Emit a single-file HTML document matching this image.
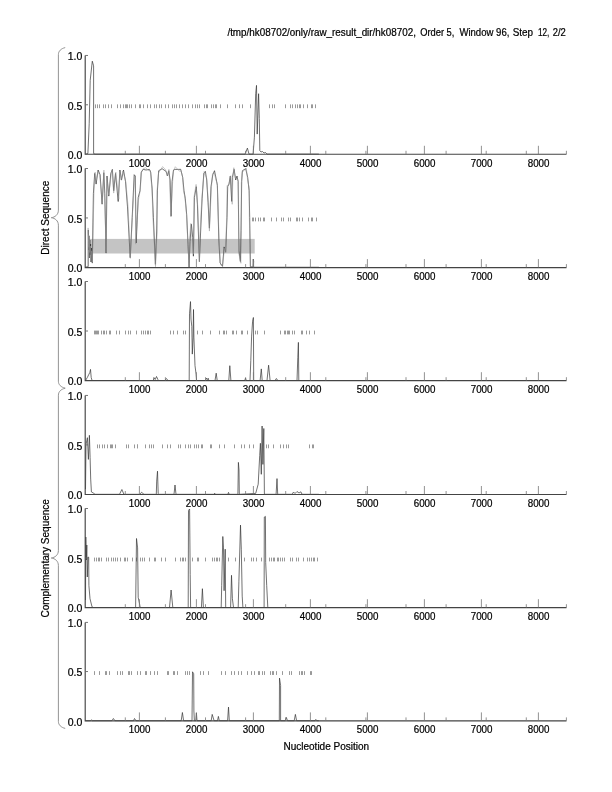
<!DOCTYPE html><html><head><meta charset="utf-8"><style>html,body{margin:0;padding:0;background:#fff;width:612px;height:792px;overflow:hidden}svg{display:block;filter:grayscale(1)}text{font-family:"Liberation Sans",sans-serif;fill:#000;stroke:#000;stroke-width:0.22}</style></head><body>
<svg width="612" height="792" viewBox="0 0 612 792">
<text x="227.40" y="35.6" font-size="10" textLength="188.50" lengthAdjust="spacingAndGlyphs">/tmp/hk08702/only/raw_result_dir/hk08702,</text>
<text x="420.20" y="35.6" font-size="10" textLength="34.20" lengthAdjust="spacingAndGlyphs">Order 5,</text>
<text x="459.40" y="35.6" font-size="10" textLength="50.00" lengthAdjust="spacingAndGlyphs">Window 96,</text>
<text x="512.70" y="35.6" font-size="10" textLength="20.40" lengthAdjust="spacingAndGlyphs">Step</text>
<text x="538.00" y="35.6" font-size="10" textLength="11.40" lengthAdjust="spacingAndGlyphs">12,</text>
<text x="552.70" y="35.6" font-size="10" textLength="13.10" lengthAdjust="spacingAndGlyphs">2/2</text>
<path d="M95.5 104.38v3.8M97.5 104.38v3.8M99.5 104.38v3.8M103.5 104.38v3.8M105.5 104.38v3.8M108.5 104.38v3.8M111.5 104.38v3.8M117.5 104.38v3.8M120.5 104.38v3.8M123.5 104.38v3.8M125.5 104.38v3.8M126.5 104.38v3.8M127.5 104.38v3.8M129.5 104.38v3.8M131.5 104.38v3.8M135.5 104.38v3.8M139.5 104.38v3.8M140.5 104.38v3.8M143.5 104.38v3.8M147.5 104.38v3.8M150.5 104.38v3.8M154.5 104.38v3.8M156.5 104.38v3.8M159.5 104.38v3.8M161.5 104.38v3.8M165.5 104.38v3.8M168.5 104.38v3.8M172.5 104.38v3.8M174.5 104.38v3.8M176.5 104.38v3.8M179.5 104.38v3.8M182.5 104.38v3.8M185.5 104.38v3.8M188.5 104.38v3.8M192.5 104.38v3.8M195.5 104.38v3.8M197.5 104.38v3.8M199.5 104.38v3.8M204.5 104.38v3.8M206.5 104.38v3.8M207.5 104.38v3.8M211.5 104.38v3.8M213.5 104.38v3.8M215.5 104.38v3.8M216.5 104.38v3.8M220.5 104.38v3.8M227.5 104.38v3.8M235.5 104.38v3.8M239.5 104.38v3.8M242.5 104.38v3.8M250.5 104.38v3.8M269.5 104.38v3.8M272.5 104.38v3.8M274.5 104.38v3.8M285.5 104.38v3.8M290.5 104.38v3.8M292.5 104.38v3.8M295.5 104.38v3.8M297.5 104.38v3.8M299.5 104.38v3.8M300.5 104.38v3.8M303.5 104.38v3.8M307.5 104.38v3.8M311.5 104.38v3.8M312.5 104.38v3.8M315.5 104.38v3.8" fill="none" stroke="#999" stroke-width="1"/>
<path d="M85.5 154.1L87.9 153.5L89.2 123.7L90.2 80.3L92.3 61.2L93.6 65.8L93.6 153.5L95.0 154.1L245.1 154.1L247.4 148.1L249.0 154.1L253.1 154.1L254.4 137.2L255.7 93.7L256.5 85.4L257.2 134.1L258.6 93.7L259.3 118.5L259.8 150.6L261.0 152.0L262.5 151.5L264.0 153.0L265.5 152.5L267.0 154.1L318.9 154.1" fill="none" stroke="#333" stroke-width="0.7" stroke-linejoin="round"/>
<path d="M85.2 55.46V154.24H566.5" fill="none" stroke="#444" stroke-width="1.15"/>
<path d="M85.2 55.46h2.8M85.2 104.78h2.8" fill="none" stroke="#666" stroke-width="0.9"/>
<path d="M139.40 154.09v-8.3M196.40 154.09v-8.3M253.40 154.09v-8.3M310.40 154.09v-8.3M367.40 154.09v-8.3M424.40 154.09v-8.3M481.40 154.09v-8.3M538.40 154.09v-8.3M125.30 154.09v-3.3M165.40 154.09v-3.3M205.50 154.09v-3.3M245.60 154.09v-3.3M285.70 154.09v-3.3M325.80 154.09v-3.3M365.90 154.09v-3.3M406.00 154.09v-3.3M446.10 154.09v-3.3M486.20 154.09v-3.3M526.30 154.09v-3.3M566.40 154.09v-3.3" fill="none" stroke="#777" stroke-width="0.8"/>
<text transform="translate(82.3 60.26) scale(1.05 1)" font-size="10" text-anchor="end">1.0</text>
<text transform="translate(82.3 109.58) scale(1.05 1)" font-size="10" text-anchor="end">0.5</text>
<text transform="translate(82.3 158.89) scale(1.05 1)" font-size="10" text-anchor="end">0.0</text>
<text transform="translate(139.60 166.69) scale(0.98 1)" font-size="10" text-anchor="middle">1000</text>
<text transform="translate(196.60 166.69) scale(0.98 1)" font-size="10" text-anchor="middle">2000</text>
<text transform="translate(253.60 166.69) scale(0.98 1)" font-size="10" text-anchor="middle">3000</text>
<text transform="translate(310.60 166.69) scale(0.98 1)" font-size="10" text-anchor="middle">4000</text>
<text transform="translate(367.60 166.69) scale(0.98 1)" font-size="10" text-anchor="middle">5000</text>
<text transform="translate(424.60 166.69) scale(0.98 1)" font-size="10" text-anchor="middle">6000</text>
<text transform="translate(481.60 166.69) scale(0.98 1)" font-size="10" text-anchor="middle">7000</text>
<text transform="translate(538.60 166.69) scale(0.98 1)" font-size="10" text-anchor="middle">8000</text>
<rect x="89.0" y="238.9" width="165.70" height="14.60" fill="#c4c4c4"/>
<path d="M252.5 217.55v3.8M253.5 217.55v3.8M255.5 217.55v3.8M258.5 217.55v3.8M260.5 217.55v3.8M263.5 217.55v3.8M264.5 217.55v3.8M271.5 217.55v3.8M276.5 217.55v3.8M281.5 217.55v3.8M283.5 217.55v3.8M288.5 217.55v3.8M290.5 217.55v3.8M296.5 217.55v3.8M297.5 217.55v3.8M299.5 217.55v3.8M302.5 217.55v3.8M308.5 217.55v3.8M311.5 217.55v3.8M312.5 217.55v3.8M316.5 217.55v3.8" fill="none" stroke="#999" stroke-width="1"/>
<path d="M85.5 267.3L88.2 266.5L88.3 230.0L88.7 250.0L89.0 236.0L89.4 258.0L89.8 240.0L90.2 255.0L90.6 244.0L91.0 262.0L91.5 248.0L92.3 263.1L93.4 193.5L94.7 173.4L96.1 184.1L98.1 170.0L100.1 174.7L102.1 204.2L103.8 172.7L104.8 193.5L106.1 253.1L107.0 176.0L108.8 196.1L110.8 173.4L112.4 169.4L113.7 190.8L115.5 173.4L118.2 201.5L119.9 170.0L121.5 180.1L123.5 170.0L125.5 181.4L127.5 206.9L130.2 257.7L132.2 217.6L134.2 174.7L135.3 176.0L136.2 243.0L138.2 197.5L140.0 190.8L141.3 172.0L143.3 169.4L146.0 170.0L149.4 169.4L150.7 172.0L152.1 188.1L153.4 217.6L155.4 264.4L156.7 231.0L157.4 190.8L158.7 170.7L162.1 168.7L166.1 171.4L167.5 176.0L168.8 170.7L170.1 180.1L171.1 216.2L172.1 181.4L173.5 170.0L175.1 169.4L178.8 169.4L180.7 169.3L182.7 177.4L184.0 190.7L185.3 198.8L186.7 214.8L188.0 244.2L189.1 267.0L190.0 241.5L191.4 224.2L192.7 237.5L193.4 256.2L194.4 197.4L196.3 186.7L197.4 204.1L199.4 261.6L200.3 238.9L202.1 198.8L203.8 173.4L205.4 171.4L206.7 180.0L208.1 202.8L209.4 228.2L211.0 186.7L212.8 174.7L214.5 170.7L216.1 178.7L217.4 185.4L218.8 238.9L220.1 262.9L222.5 266.3L224.1 246.9L225.7 252.2L227.0 217.5L227.7 186.7L229.0 184.0L230.3 176.0L231.7 201.4L232.4 177.4L234.1 169.3L235.7 180.0L237.0 176.0L238.1 181.4L238.4 204.1L239.0 250.9L240.4 261.6L241.0 230.8L241.7 181.4L242.4 170.7L245.7 168.7L247.7 177.4L249.1 190.7L249.7 217.5L250.4 266.8L253.0 267.0L253.3 259.0L253.6 267.3L318.9 267.3" fill="none" stroke="#333" stroke-width="0.7" stroke-linejoin="round"/>
<path d="M85.5 267.3L88.2 266.5L88.1 227.9L88.9 247.4L89.0 235.2L88.9 258.0L89.2 239.6L89.7 252.5L90.5 246.0L90.5 260.3L91.7 250.7L92.4 262.5L94.0 190.8L95.1 172.1L95.7 181.8L97.9 171.9L99.7 175.2L102.3 203.4L103.9 170.1L104.3 191.7L106.3 252.7L106.8 176.5L108.7 194.9L111.2 174.6L112.1 169.8L113.7 193.1L115.8 172.1L118.8 199.2L119.8 171.5L121.1 180.0L122.9 171.0L125.8 181.8L128.0 205.8L130.4 258.3L132.3 217.3L134.6 177.4L135.3 177.0L135.7 244.2L138.4 200.5L140.4 189.5L141.2 173.0L142.7 169.2L145.6 167.7L148.9 171.0L150.3 170.5L152.0 190.3L152.9 217.3L155.5 266.7L157.1 233.2L157.1 190.3L158.5 173.0L162.6 166.6L165.7 169.8L167.2 175.9L168.9 169.3L169.5 179.6L170.9 216.6L172.6 182.5L173.5 170.7L175.3 166.7L179.3 171.1L181.1 171.1L182.6 176.8L183.5 191.5L184.8 196.2L186.4 212.8L187.8 241.5L189.1 267.0L189.4 239.4L190.9 223.4L192.1 239.7L193.5 254.1L194.1 196.5L196.1 184.4L197.8 207.1L199.4 261.5L199.8 236.5L201.9 197.4L204.2 171.4L204.8 174.1L206.7 177.9L208.2 200.0L209.4 231.1L211.4 187.9L212.5 173.9L214.1 172.3L216.1 180.4L217.2 183.7L219.2 241.8L220.5 264.7L222.5 266.3L224.5 248.3L225.4 252.3L226.8 214.7L227.1 185.4L228.7 185.2L230.8 175.7L232.2 204.3L232.9 176.6L233.8 167.7L235.3 178.2L237.1 178.4L238.5 181.3L238.6 205.9L238.5 251.9L240.9 263.3L241.3 230.7L241.3 183.1L242.2 172.5L246.3 168.1L247.6 180.1L249.4 188.7L249.3 215.4L250.4 266.8L253.0 267.0L253.8 260.8L253.6 267.3L318.9 267.3" fill="none" stroke="#999" stroke-width="0.5" stroke-linejoin="round"/>
<path d="M85.2 168.50V267.55H566.5" fill="none" stroke="#444" stroke-width="1.15"/>
<path d="M85.2 168.50h2.8M85.2 217.95h2.8" fill="none" stroke="#666" stroke-width="0.9"/>
<path d="M139.40 267.40v-8.3M196.40 267.40v-8.3M253.40 267.40v-8.3M310.40 267.40v-8.3M367.40 267.40v-8.3M424.40 267.40v-8.3M481.40 267.40v-8.3M538.40 267.40v-8.3M125.30 267.40v-3.3M165.40 267.40v-3.3M205.50 267.40v-3.3M245.60 267.40v-3.3M285.70 267.40v-3.3M325.80 267.40v-3.3M365.90 267.40v-3.3M406.00 267.40v-3.3M446.10 267.40v-3.3M486.20 267.40v-3.3M526.30 267.40v-3.3M566.40 267.40v-3.3" fill="none" stroke="#777" stroke-width="0.8"/>
<text transform="translate(82.3 173.30) scale(1.05 1)" font-size="10" text-anchor="end">1.0</text>
<text transform="translate(82.3 222.75) scale(1.05 1)" font-size="10" text-anchor="end">0.5</text>
<text transform="translate(82.3 272.20) scale(1.05 1)" font-size="10" text-anchor="end">0.0</text>
<text transform="translate(139.60 280.00) scale(0.98 1)" font-size="10" text-anchor="middle">1000</text>
<text transform="translate(196.60 280.00) scale(0.98 1)" font-size="10" text-anchor="middle">2000</text>
<text transform="translate(253.60 280.00) scale(0.98 1)" font-size="10" text-anchor="middle">3000</text>
<text transform="translate(310.60 280.00) scale(0.98 1)" font-size="10" text-anchor="middle">4000</text>
<text transform="translate(367.60 280.00) scale(0.98 1)" font-size="10" text-anchor="middle">5000</text>
<text transform="translate(424.60 280.00) scale(0.98 1)" font-size="10" text-anchor="middle">6000</text>
<text transform="translate(481.60 280.00) scale(0.98 1)" font-size="10" text-anchor="middle">7000</text>
<text transform="translate(538.60 280.00) scale(0.98 1)" font-size="10" text-anchor="middle">8000</text>
<path d="M94.5 330.60v3.8M95.5 330.60v3.8M96.5 330.60v3.8M97.5 330.60v3.8M98.5 330.60v3.8M101.5 330.60v3.8M103.5 330.60v3.8M104.5 330.60v3.8M106.5 330.60v3.8M109.5 330.60v3.8M110.5 330.60v3.8M116.5 330.60v3.8M119.5 330.60v3.8M125.5 330.60v3.8M128.5 330.60v3.8M130.5 330.60v3.8M136.5 330.60v3.8M141.5 330.60v3.8M143.5 330.60v3.8M145.5 330.60v3.8M147.5 330.60v3.8M148.5 330.60v3.8M150.5 330.60v3.8M170.5 330.60v3.8M173.5 330.60v3.8M177.5 330.60v3.8M183.5 330.60v3.8M185.5 330.60v3.8M197.5 330.60v3.8M202.5 330.60v3.8M210.5 330.60v3.8M219.5 330.60v3.8M223.5 330.60v3.8M224.5 330.60v3.8M226.5 330.60v3.8M232.5 330.60v3.8M233.5 330.60v3.8M236.5 330.60v3.8M241.5 330.60v3.8M242.5 330.60v3.8M247.5 330.60v3.8M255.5 330.60v3.8M257.5 330.60v3.8M264.5 330.60v3.8M280.5 330.60v3.8M284.5 330.60v3.8M285.5 330.60v3.8M287.5 330.60v3.8M288.5 330.60v3.8M289.5 330.60v3.8M292.5 330.60v3.8M294.5 330.60v3.8M301.5 330.60v3.8M302.5 330.60v3.8M306.5 330.60v3.8M309.5 330.60v3.8M314.5 330.60v3.8" fill="none" stroke="#999" stroke-width="1"/>
<path d="M85.5 380.5L87.3 377.5L88.6 374.9L89.9 372.3L90.5 369.4L91.2 377.5L92.1 380.5L153.3 380.5L153.9 377.5L155.2 379.5L156.5 376.5L157.9 379.5L158.5 380.5L164.8 380.5L166.4 378.5L168.0 380.5L189.2 380.5L189.5 313.8L190.5 301.6L191.0 319.1L191.8 326.5L192.3 354.1L193.1 337.1L193.5 309.5L193.9 337.1L195.0 365.7L196.1 374.2L196.6 380.5L205.6 380.5L206.5 378.0L207.5 379.5L208.3 378.3L208.8 380.5L215.0 380.5L216.2 373.2L217.2 380.5L228.8 380.5L229.8 365.7L230.9 380.5L244.8 380.5L245.5 378.0L246.2 380.5L250.0 380.5L250.8 360.4L251.6 336.1L252.6 321.2L253.4 317.5L253.7 380.5L260.1 380.5L261.3 368.9L262.2 380.5L267.0 380.5L268.6 365.2L270.1 380.5L275.0 380.5L276.4 378.5L277.8 380.5L297.0 380.5L297.8 357.3L298.4 342.4L298.8 380.5L318.9 380.5" fill="none" stroke="#333" stroke-width="0.7" stroke-linejoin="round"/>
<path d="M85.2 281.50V380.65H566.5" fill="none" stroke="#444" stroke-width="1.15"/>
<path d="M85.2 281.50h2.8M85.2 331.00h2.8" fill="none" stroke="#666" stroke-width="0.9"/>
<path d="M139.40 380.50v-8.3M196.40 380.50v-8.3M253.40 380.50v-8.3M310.40 380.50v-8.3M367.40 380.50v-8.3M424.40 380.50v-8.3M481.40 380.50v-8.3M538.40 380.50v-8.3M125.30 380.50v-3.3M165.40 380.50v-3.3M205.50 380.50v-3.3M245.60 380.50v-3.3M285.70 380.50v-3.3M325.80 380.50v-3.3M365.90 380.50v-3.3M406.00 380.50v-3.3M446.10 380.50v-3.3M486.20 380.50v-3.3M526.30 380.50v-3.3M566.40 380.50v-3.3" fill="none" stroke="#777" stroke-width="0.8"/>
<text transform="translate(82.3 286.30) scale(1.05 1)" font-size="10" text-anchor="end">1.0</text>
<text transform="translate(82.3 335.80) scale(1.05 1)" font-size="10" text-anchor="end">0.5</text>
<text transform="translate(82.3 385.30) scale(1.05 1)" font-size="10" text-anchor="end">0.0</text>
<text transform="translate(139.60 393.10) scale(0.98 1)" font-size="10" text-anchor="middle">1000</text>
<text transform="translate(196.60 393.10) scale(0.98 1)" font-size="10" text-anchor="middle">2000</text>
<text transform="translate(253.60 393.10) scale(0.98 1)" font-size="10" text-anchor="middle">3000</text>
<text transform="translate(310.60 393.10) scale(0.98 1)" font-size="10" text-anchor="middle">4000</text>
<text transform="translate(367.60 393.10) scale(0.98 1)" font-size="10" text-anchor="middle">5000</text>
<text transform="translate(424.60 393.10) scale(0.98 1)" font-size="10" text-anchor="middle">6000</text>
<text transform="translate(481.60 393.10) scale(0.98 1)" font-size="10" text-anchor="middle">7000</text>
<text transform="translate(538.60 393.10) scale(0.98 1)" font-size="10" text-anchor="middle">8000</text>
<path d="M97.5 444.48v3.8M99.5 444.48v3.8M102.5 444.48v3.8M104.5 444.48v3.8M107.5 444.48v3.8M110.5 444.48v3.8M111.5 444.48v3.8M112.5 444.48v3.8M115.5 444.48v3.8M126.5 444.48v3.8M128.5 444.48v3.8M134.5 444.48v3.8M137.5 444.48v3.8M137.5 444.48v3.8M145.5 444.48v3.8M149.5 444.48v3.8M151.5 444.48v3.8M153.5 444.48v3.8M162.5 444.48v3.8M167.5 444.48v3.8M170.5 444.48v3.8M178.5 444.48v3.8M180.5 444.48v3.8M185.5 444.48v3.8M188.5 444.48v3.8M190.5 444.48v3.8M194.5 444.48v3.8M196.5 444.48v3.8M198.5 444.48v3.8M201.5 444.48v3.8M202.5 444.48v3.8M210.5 444.48v3.8M211.5 444.48v3.8M219.5 444.48v3.8M224.5 444.48v3.8M234.5 444.48v3.8M241.5 444.48v3.8M244.5 444.48v3.8M249.5 444.48v3.8M253.5 444.48v3.8M266.5 444.48v3.8M268.5 444.48v3.8M273.5 444.48v3.8M280.5 444.48v3.8M283.5 444.48v3.8M286.5 444.48v3.8M288.5 444.48v3.8M309.5 444.48v3.8M312.5 444.48v3.8M313.5 444.48v3.8" fill="none" stroke="#999" stroke-width="1"/>
<path d="M85.5 489.0L86.0 444.6L87.4 437.7L88.4 459.4L89.4 435.3L90.1 457.4L90.7 479.1L91.4 491.9L93.9 493.4L95.0 494.3L119.5 494.3L121.9 489.5L123.9 494.3L140.0 494.3L141.5 492.3L144.0 494.3L156.3 494.3L156.7 481.1L157.5 471.2L158.2 493.4L158.5 494.3L174.0 494.3L175.0 485.0L176.0 494.3L214.0 494.3L214.7 493.2L215.4 494.3L227.8 494.3L228.5 492.4L229.2 494.3L237.9 494.3L238.4 462.4L239.0 470.0L239.3 494.3L255.7 493.4L258.2 484.2L259.7 455.7L260.4 443.3L261.3 474.3L262.1 426.0L262.9 464.4L263.8 428.5L264.4 494.3L276.1 494.3L277.0 478.6L277.7 494.3L292.2 494.3L293.5 492.0L295.0 493.5L297.0 491.5L299.0 493.0L300.9 491.8L302.0 494.3L318.9 494.3" fill="none" stroke="#333" stroke-width="0.7" stroke-linejoin="round"/>
<path d="M85.2 395.45V494.45H566.5" fill="none" stroke="#444" stroke-width="1.15"/>
<path d="M85.2 395.45h2.8M85.2 444.88h2.8" fill="none" stroke="#666" stroke-width="0.9"/>
<path d="M139.40 494.30v-8.3M196.40 494.30v-8.3M253.40 494.30v-8.3M310.40 494.30v-8.3M367.40 494.30v-8.3M424.40 494.30v-8.3M481.40 494.30v-8.3M538.40 494.30v-8.3M125.30 494.30v-3.3M165.40 494.30v-3.3M205.50 494.30v-3.3M245.60 494.30v-3.3M285.70 494.30v-3.3M325.80 494.30v-3.3M365.90 494.30v-3.3M406.00 494.30v-3.3M446.10 494.30v-3.3M486.20 494.30v-3.3M526.30 494.30v-3.3M566.40 494.30v-3.3" fill="none" stroke="#777" stroke-width="0.8"/>
<text transform="translate(82.3 400.25) scale(1.05 1)" font-size="10" text-anchor="end">1.0</text>
<text transform="translate(82.3 449.68) scale(1.05 1)" font-size="10" text-anchor="end">0.5</text>
<text transform="translate(82.3 499.10) scale(1.05 1)" font-size="10" text-anchor="end">0.0</text>
<text transform="translate(139.60 506.90) scale(0.98 1)" font-size="10" text-anchor="middle">1000</text>
<text transform="translate(196.60 506.90) scale(0.98 1)" font-size="10" text-anchor="middle">2000</text>
<text transform="translate(253.60 506.90) scale(0.98 1)" font-size="10" text-anchor="middle">3000</text>
<text transform="translate(310.60 506.90) scale(0.98 1)" font-size="10" text-anchor="middle">4000</text>
<text transform="translate(367.60 506.90) scale(0.98 1)" font-size="10" text-anchor="middle">5000</text>
<text transform="translate(424.60 506.90) scale(0.98 1)" font-size="10" text-anchor="middle">6000</text>
<text transform="translate(481.60 506.90) scale(0.98 1)" font-size="10" text-anchor="middle">7000</text>
<text transform="translate(538.60 506.90) scale(0.98 1)" font-size="10" text-anchor="middle">8000</text>
<path d="M94.5 557.60v3.8M96.5 557.60v3.8M98.5 557.60v3.8M99.5 557.60v3.8M101.5 557.60v3.8M106.5 557.60v3.8M108.5 557.60v3.8M111.5 557.60v3.8M113.5 557.60v3.8M115.5 557.60v3.8M117.5 557.60v3.8M120.5 557.60v3.8M124.5 557.60v3.8M125.5 557.60v3.8M127.5 557.60v3.8M132.5 557.60v3.8M136.5 557.60v3.8M140.5 557.60v3.8M142.5 557.60v3.8M144.5 557.60v3.8M149.5 557.60v3.8M154.5 557.60v3.8M155.5 557.60v3.8M161.5 557.60v3.8M165.5 557.60v3.8M175.5 557.60v3.8M180.5 557.60v3.8M182.5 557.60v3.8M183.5 557.60v3.8M185.5 557.60v3.8M192.5 557.60v3.8M197.5 557.60v3.8M198.5 557.60v3.8M205.5 557.60v3.8M212.5 557.60v3.8M214.5 557.60v3.8M216.5 557.60v3.8M217.5 557.60v3.8M219.5 557.60v3.8M228.5 557.60v3.8M235.5 557.60v3.8M244.5 557.60v3.8M251.5 557.60v3.8M253.5 557.60v3.8M256.5 557.60v3.8M261.5 557.60v3.8M269.5 557.60v3.8M271.5 557.60v3.8M273.5 557.60v3.8M274.5 557.60v3.8M277.5 557.60v3.8M278.5 557.60v3.8M280.5 557.60v3.8M282.5 557.60v3.8M284.5 557.60v3.8M290.5 557.60v3.8M292.5 557.60v3.8M296.5 557.60v3.8M298.5 557.60v3.8M303.5 557.60v3.8M307.5 557.60v3.8M309.5 557.60v3.8M311.5 557.60v3.8M313.5 557.60v3.8M314.5 557.60v3.8M317.5 557.60v3.8" fill="none" stroke="#999" stroke-width="1"/>
<path d="M85.5 600.0L85.8 537.0L86.3 560.0L86.8 545.0L87.3 577.0L88.0 557.2L88.7 557.2L88.9 585.4L90.0 598.7L92.0 606.8L93.0 607.5L135.6 607.5L136.5 538.5L137.6 547.9L138.2 597.4L139.6 604.1L140.2 607.5L169.5 607.5L171.1 590.0L172.8 607.5L188.2 607.5L188.5 510.4L189.6 509.0L190.2 574.6L190.6 607.5L201.4 607.5L202.4 588.7L203.4 607.5L221.2 607.5L221.7 585.4L222.8 536.5L223.5 547.9L224.1 590.7L225.2 549.2L225.7 607.5L230.6 607.5L231.5 575.3L232.4 598.7L233.5 607.5L238.2 607.5L238.9 581.3L240.5 525.1L241.3 549.2L242.2 596.1L242.9 607.5L264.1 607.5L264.3 517.1L265.4 516.4L265.7 562.6L266.7 585.4L267.8 607.5L318.9 607.5" fill="none" stroke="#333" stroke-width="0.7" stroke-linejoin="round"/>
<path d="M85.2 508.50V607.65H566.5" fill="none" stroke="#444" stroke-width="1.15"/>
<path d="M85.2 508.50h2.8M85.2 558.00h2.8" fill="none" stroke="#666" stroke-width="0.9"/>
<path d="M139.40 607.50v-8.3M196.40 607.50v-8.3M253.40 607.50v-8.3M310.40 607.50v-8.3M367.40 607.50v-8.3M424.40 607.50v-8.3M481.40 607.50v-8.3M538.40 607.50v-8.3M125.30 607.50v-3.3M165.40 607.50v-3.3M205.50 607.50v-3.3M245.60 607.50v-3.3M285.70 607.50v-3.3M325.80 607.50v-3.3M365.90 607.50v-3.3M406.00 607.50v-3.3M446.10 607.50v-3.3M486.20 607.50v-3.3M526.30 607.50v-3.3M566.40 607.50v-3.3" fill="none" stroke="#777" stroke-width="0.8"/>
<text transform="translate(82.3 513.30) scale(1.05 1)" font-size="10" text-anchor="end">1.0</text>
<text transform="translate(82.3 562.80) scale(1.05 1)" font-size="10" text-anchor="end">0.5</text>
<text transform="translate(82.3 612.30) scale(1.05 1)" font-size="10" text-anchor="end">0.0</text>
<text transform="translate(139.60 620.10) scale(0.98 1)" font-size="10" text-anchor="middle">1000</text>
<text transform="translate(196.60 620.10) scale(0.98 1)" font-size="10" text-anchor="middle">2000</text>
<text transform="translate(253.60 620.10) scale(0.98 1)" font-size="10" text-anchor="middle">3000</text>
<text transform="translate(310.60 620.10) scale(0.98 1)" font-size="10" text-anchor="middle">4000</text>
<text transform="translate(367.60 620.10) scale(0.98 1)" font-size="10" text-anchor="middle">5000</text>
<text transform="translate(424.60 620.10) scale(0.98 1)" font-size="10" text-anchor="middle">6000</text>
<text transform="translate(481.60 620.10) scale(0.98 1)" font-size="10" text-anchor="middle">7000</text>
<text transform="translate(538.60 620.10) scale(0.98 1)" font-size="10" text-anchor="middle">8000</text>
<path d="M94.5 671.15v3.8M99.5 671.15v3.8M105.5 671.15v3.8M106.5 671.15v3.8M109.5 671.15v3.8M117.5 671.15v3.8M120.5 671.15v3.8M122.5 671.15v3.8M128.5 671.15v3.8M129.5 671.15v3.8M131.5 671.15v3.8M137.5 671.15v3.8M140.5 671.15v3.8M145.5 671.15v3.8M146.5 671.15v3.8M150.5 671.15v3.8M154.5 671.15v3.8M157.5 671.15v3.8M167.5 671.15v3.8M168.5 671.15v3.8M173.5 671.15v3.8M174.5 671.15v3.8M177.5 671.15v3.8M185.5 671.15v3.8M187.5 671.15v3.8M189.5 671.15v3.8M200.5 671.15v3.8M203.5 671.15v3.8M208.5 671.15v3.8M221.5 671.15v3.8M225.5 671.15v3.8M231.5 671.15v3.8M234.5 671.15v3.8M238.5 671.15v3.8M241.5 671.15v3.8M247.5 671.15v3.8M251.5 671.15v3.8M254.5 671.15v3.8M258.5 671.15v3.8M259.5 671.15v3.8M262.5 671.15v3.8M264.5 671.15v3.8M270.5 671.15v3.8M272.5 671.15v3.8M273.5 671.15v3.8M276.5 671.15v3.8M282.5 671.15v3.8M289.5 671.15v3.8M291.5 671.15v3.8M299.5 671.15v3.8M301.5 671.15v3.8M302.5 671.15v3.8M304.5 671.15v3.8M310.5 671.15v3.8M311.5 671.15v3.8" fill="none" stroke="#999" stroke-width="1"/>
<path d="M85.5 720.7L90.5 720.7L91.4 719.8L92.3 720.7L111.9 720.7L113.4 718.5L114.9 720.7L133.5 720.7L134.5 718.5L136.0 720.7L181.2 720.7L182.4 712.5L183.6 720.7L192.0 720.7L192.5 671.8L193.7 673.7L193.9 711.0L194.4 720.7L195.8 720.7L196.4 712.9L197.0 720.7L211.2 720.7L212.2 714.4L214.1 720.7L217.5 720.7L218.4 716.4L219.3 720.7L227.6 720.7L228.5 707.1L229.3 720.7L279.3 720.7L279.5 678.1L280.6 685.5L280.6 720.7L285.3 720.7L286.3 717.4L287.5 720.7L294.2 720.7L295.4 714.4L296.6 720.7L315.0 720.7L315.8 719.4L316.8 720.7L318.9 720.7" fill="none" stroke="#333" stroke-width="0.7" stroke-linejoin="round"/>
<path d="M85.2 622.40V720.85H566.5" fill="none" stroke="#444" stroke-width="1.15"/>
<path d="M85.2 622.40h2.8M85.2 671.55h2.8" fill="none" stroke="#666" stroke-width="0.9"/>
<path d="M139.40 720.70v-8.3M196.40 720.70v-8.3M253.40 720.70v-8.3M310.40 720.70v-8.3M367.40 720.70v-8.3M424.40 720.70v-8.3M481.40 720.70v-8.3M538.40 720.70v-8.3M125.30 720.70v-3.3M165.40 720.70v-3.3M205.50 720.70v-3.3M245.60 720.70v-3.3M285.70 720.70v-3.3M325.80 720.70v-3.3M365.90 720.70v-3.3M406.00 720.70v-3.3M446.10 720.70v-3.3M486.20 720.70v-3.3M526.30 720.70v-3.3M566.40 720.70v-3.3" fill="none" stroke="#777" stroke-width="0.8"/>
<text transform="translate(82.3 627.20) scale(1.05 1)" font-size="10" text-anchor="end">1.0</text>
<text transform="translate(82.3 676.35) scale(1.05 1)" font-size="10" text-anchor="end">0.5</text>
<text transform="translate(82.3 725.50) scale(1.05 1)" font-size="10" text-anchor="end">0.0</text>
<text transform="translate(139.60 733.30) scale(0.98 1)" font-size="10" text-anchor="middle">1000</text>
<text transform="translate(196.60 733.30) scale(0.98 1)" font-size="10" text-anchor="middle">2000</text>
<text transform="translate(253.60 733.30) scale(0.98 1)" font-size="10" text-anchor="middle">3000</text>
<text transform="translate(310.60 733.30) scale(0.98 1)" font-size="10" text-anchor="middle">4000</text>
<text transform="translate(367.60 733.30) scale(0.98 1)" font-size="10" text-anchor="middle">5000</text>
<text transform="translate(424.60 733.30) scale(0.98 1)" font-size="10" text-anchor="middle">6000</text>
<text transform="translate(481.60 733.30) scale(0.98 1)" font-size="10" text-anchor="middle">7000</text>
<text transform="translate(538.60 733.30) scale(0.98 1)" font-size="10" text-anchor="middle">8000</text>
<path d="M65.2 47.6 C61 48.6 58.4 51.1 58.4 54.6 V210.2 C58.4 214.7 55 217.2 51.3 217.7 C55 218.2 58.4 220.7 58.4 225.2 V381.2 C58.4 384.7 61 387.2 65.2 388.2" fill="none" stroke="#888" stroke-width="0.9"/>
<path d="M65.2 388.2 C61 389.2 58.4 391.7 58.4 395.2 V550.5 C58.4 555.0 55 557.5 51.3 558.0 C55 558.5 58.4 561.0 58.4 565.5 V721.4 C58.4 724.9 61 727.4 65.2 728.4" fill="none" stroke="#888" stroke-width="0.9"/>
<text transform="translate(48.6 217.7) rotate(-90)" font-size="10" text-anchor="middle">Direct Sequence</text>
<text transform="translate(48.6 558.3) rotate(-90)" font-size="10" text-anchor="middle">Complementary Sequence</text>
<text x="326.3" y="749.7" font-size="10" text-anchor="middle">Nucleotide Position</text>
</svg></body></html>
